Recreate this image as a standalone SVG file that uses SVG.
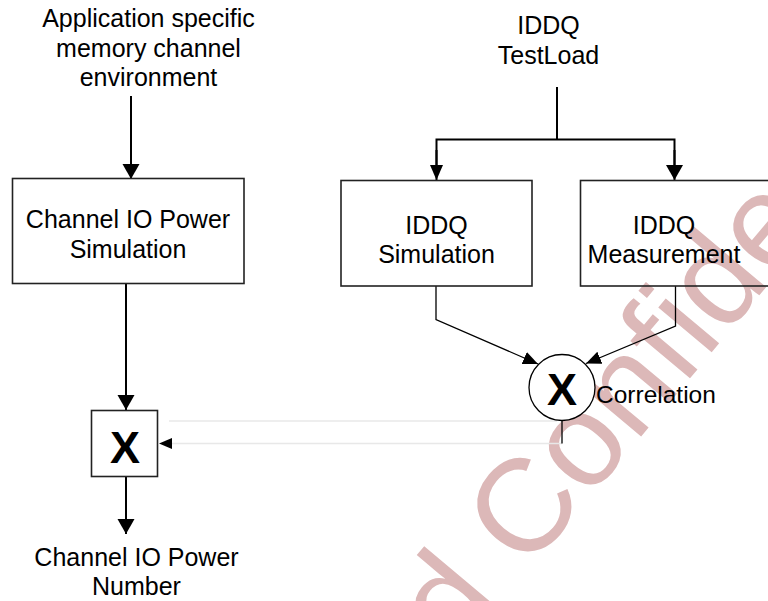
<svg xmlns="http://www.w3.org/2000/svg" width="768" height="601" viewBox="0 0 768 601">
<defs>
<style>
text{font-family:"Liberation Sans",Arial,sans-serif;fill:#000}
.t{font-size:25px;text-anchor:middle}
.box{fill:none;stroke:#222;stroke-width:1.6}
.ln{fill:none;stroke:#000;stroke-width:2}
.thin{fill:none;stroke:#000;stroke-width:1.3}
.grey{fill:none;stroke:#e8e8e8;stroke-width:1.5}
.bx{font-size:45px;font-weight:bold;text-anchor:middle}
.wm{font-size:132px;fill:#dcb8b8}
</style>
<marker id="ah" markerUnits="userSpaceOnUse" markerWidth="16" markerHeight="18" refX="15" refY="8.5" orient="auto"><path d="M0,0 L15,8.5 L0,17 z" fill="#000"/></marker>
<marker id="ahs" markerUnits="userSpaceOnUse" markerWidth="16" markerHeight="14" refX="15" refY="6.5" orient="auto"><path d="M0,0 L15,6.5 L0,13 z" fill="#000"/></marker>
</defs>
<rect width="768" height="601" fill="#fff"/>
<text class="wm" transform="translate(456,657) rotate(-50)">d Confidential</text>
<g id="connectors">
<line class="ln" x1="131" y1="96" x2="131" y2="179" marker-end="url(#ah)"/>
<line class="ln" x1="126" y1="284" x2="126" y2="410" marker-end="url(#ah)"/>
<line class="ln" x1="126" y1="477" x2="126" y2="534" marker-end="url(#ah)"/>
<polyline class="ln" points="557,87 557,139.5"/>
<polyline class="ln" points="436.5,170 436.5,139.5 674.5,139.5 674.5,170"/>
<line class="ln" x1="436.5" y1="150" x2="436.5" y2="180" marker-end="url(#ahs)"/>
<line class="ln" x1="674.5" y1="150" x2="674.5" y2="180" stroke-width="2.4" marker-end="url(#ah)"/>
<polyline class="thin" points="436,286 436,319.5 538,364" marker-end="url(#ahs)"/>
<polyline class="thin" points="675.5,286 675.5,326 586,363.5" marker-end="url(#ahs)"/>
<line class="grey" x1="169" y1="421" x2="557" y2="421"/>
<line class="grey" x1="562" y1="443.5" x2="165" y2="443.5"/>
<line class="thin" x1="562" y1="420.5" x2="562" y2="443.5"/>
<path d="M172,438 L159,443.5 L172,449 z" fill="#000"/>
</g>
<g id="src-app">
<text class="t" x="148.5" y="27">Application specific</text>
<text class="t" x="148.5" y="56.5">memory channel</text>
<text class="t" x="148.5" y="86">environment</text>
</g>
<g id="src-iddq">
<text class="t" x="548.5" y="34">IDDQ</text>
<text class="t" x="548.5" y="64">TestLoad</text>
</g>
<g id="channel-sim">
<rect class="box" x="12.5" y="178.5" width="231.5" height="105"/>
<text class="t" x="128" y="227.5">Channel IO Power</text>
<text class="t" x="128" y="257.5">Simulation</text>
</g>
<g id="iddq-sim">
<rect class="box" x="341" y="180.5" width="191" height="105.5"/>
<text class="t" x="436.5" y="233.5">IDDQ</text>
<text class="t" x="436.5" y="263">Simulation</text>
</g>
<g id="iddq-meas">
<rect class="box" x="580.5" y="180.5" width="200" height="105.5"/>
<text class="t" x="664" y="233.5">IDDQ</text>
<text class="t" x="664" y="263">Measurement</text>
</g>
<g id="correlation">
<circle cx="562" cy="387.5" r="33" fill="#fff" stroke="#000" stroke-width="1.3"/>
<text class="bx" x="562" y="404.5">X</text>
<text x="596" y="403" font-size="24.5">Correlation</text>
</g>
<g id="multiplier">
<rect class="box" x="91.5" y="410.5" width="66" height="66"/>
<text class="bx" x="125" y="463">X</text>
</g>
<g id="result">
<text class="t" x="136.5" y="566">Channel IO Power</text>
<text class="t" x="136.5" y="595">Number</text>
</g>
</svg>
